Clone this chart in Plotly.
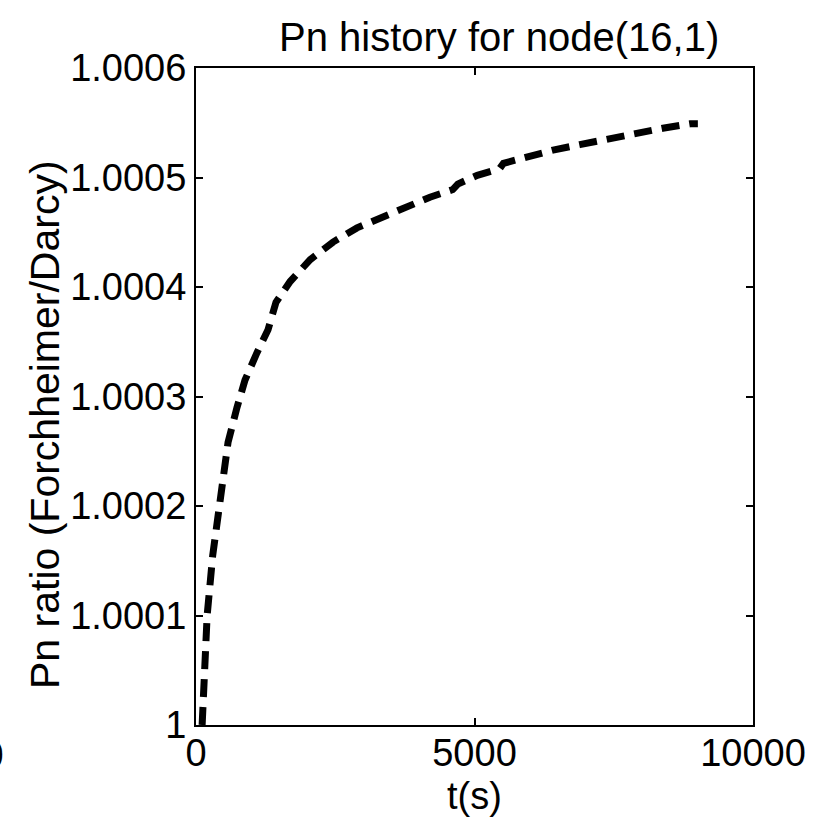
import plotly.graph_objects as go

# Pressure ratio history at node (16,1)
t_s = [110, 150, 200, 300, 400, 575, 736, 880, 1095, 1293, 1436, 1690, 2050,
       2460, 2890, 3300, 3720, 4200, 4610, 4700, 5050, 5450, 5520, 5940, 6410,
       6890, 7380, 7920, 8380, 8870, 9010]
pn_ratio = [1.0000, 1.00005, 1.00010, 1.000155, 1.000195, 1.000258, 1.000290,
            1.000315, 1.000340, 1.000361, 1.000386, 1.000405, 1.000425,
            1.000441, 1.000454, 1.000463, 1.000473, 1.000482, 1.000489,
            1.000494, 1.000502, 1.000508, 1.000513, 1.000519, 1.000525,
            1.000530, 1.000535, 1.000541, 1.000545, 1.000549, 1.000549]

x_ticks = [0, 5000, 10000]
y_ticks = [1.0, 1.0001, 1.0002, 1.0003, 1.0004, 1.0005, 1.0006]
y_tick_text = ["1", "1.0001", "1.0002", "1.0003", "1.0004", "1.0005", "1.0006"]

FONT = "Liberation Sans, Arial, sans-serif"

fig = go.Figure()
fig.add_trace(go.Scatter(
    x=t_s, y=pn_ratio, mode="lines",
    line=dict(color="black", width=7, dash="18px,10px"),
    showlegend=False,
))

axis_common = dict(
    showgrid=False, zeroline=False, showline=True, linecolor="black",
    linewidth=2, mirror="ticks", ticks="inside", ticklen=7, tickwidth=1.5,
    tickcolor="black", tickfont=dict(family=FONT, size=38, color="black"),
)

fig.update_layout(
    width=819, height=818,
    margin=dict(l=196, r=66, t=68, b=93),
    paper_bgcolor="white", plot_bgcolor="white",
    xaxis=dict(range=[0, 10000], tickvals=x_ticks,
               ticktext=[str(v) for v in x_ticks], ticklabelstandoff=-7,
               **axis_common),
    yaxis=dict(range=[1.0, 1.0006], tickvals=y_ticks, ticktext=y_tick_text,
               **axis_common),
    annotations=[
        dict(text="Pn history for node(16,1)", xref="paper", yref="paper",
             x=(499 - 196) / 557, y=1 + (68 - 37) / 657, xanchor="center",
             yanchor="middle", showarrow=False,
             font=dict(family=FONT, size=40, color="black")),
        dict(text="t(s)", xref="paper", yref="paper",
             x=0.5, y=-(796 - 725) / 657, xanchor="center", yanchor="middle",
             showarrow=False, font=dict(family=FONT, size=38, color="black")),
        dict(text="Pn ratio (Forchheimer/Darcy)", xref="paper", yref="paper",
             x=-(196 - 45) / 557, y=1 - (425 - 68) / 657, xanchor="center",
             yanchor="middle", textangle=-90, showarrow=False,
             font=dict(family=FONT, size=41, color="black")),
        # tick label of the neighbouring panel, mostly off the left edge
        dict(text="10000", xref="paper", yref="paper",
             x=-(196 - 6) / 557, y=-(755 - 725) / 657, xanchor="right",
             yanchor="middle", showarrow=False,
             font=dict(family=FONT, size=38, color="black")),
    ],
)

fig.write_html("out.html")
